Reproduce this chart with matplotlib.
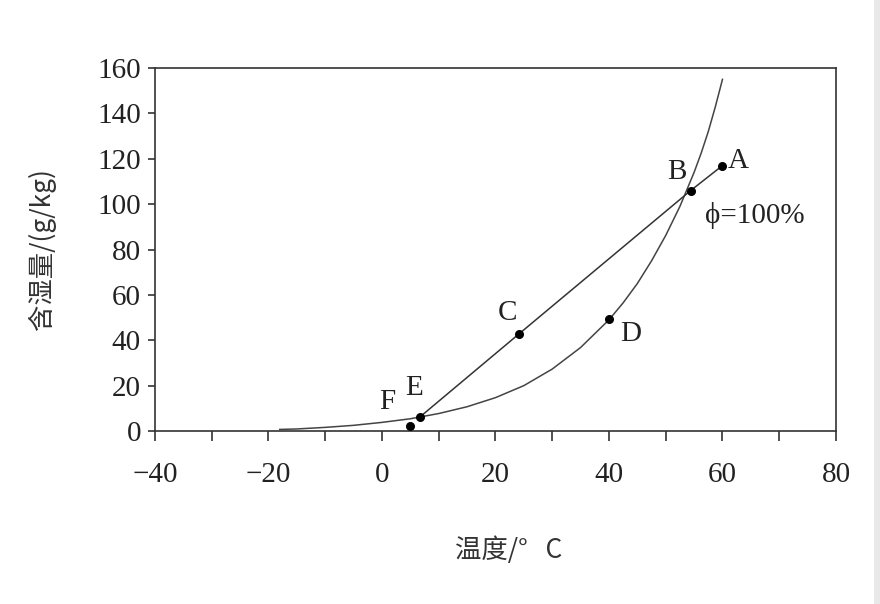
import matplotlib.pyplot as plt
from matplotlib.patches import Rectangle
from matplotlib.ticker import MultipleLocator

plt.rcParams['font.family'] = ['Liberation Serif', 'Noto Sans CJK SC', 'DejaVu Sans']

# 饱和线 φ=100%
sat_t = [-18, -15, -10, -5, 0, 5, 10, 15, 20, 25, 30, 35, 40, 42.5, 45, 47.5, 50,
         52.5, 55, 56.25, 57.5, 58.75, 60]
sat_d = [0.7, 0.9, 1.6, 2.5, 3.8, 5.4, 7.7, 10.7, 14.7, 20.0, 27.3, 36.8, 49.0, 56.5,
         65.0, 75.0, 86.2, 99.0, 114.0, 122.5, 132.0, 143.0, 155.0]

# 状态点
pt_names = ['A', 'B', 'C', 'D', 'E', 'F']
pt_t = [60, 54.4, 24.1, 40, 6.7, 4.9]
pt_d = [117, 106, 42.7, 49.3, 6.2, 2.2]

# 直线 A-B-C-E
line_names = ['A', 'B', 'C', 'E']

fig = plt.figure(figsize=(8.8, 6.04), dpi=100)
ax = fig.add_axes([0.176, 0.2864, 0.774, 0.601])

ax.plot(sat_t, sat_d, color='#444444', lw=1.1)
lx = [pt_t[pt_names.index(n)] for n in line_names]
ly = [pt_d[pt_names.index(n)] for n in line_names]
ax.plot(lx, ly, color='#333333', lw=1.1)
ax.scatter(pt_t, pt_d, s=30, color='black', zorder=3)

# 点的标注（偏移量，单位：点）
offsets = {'A': (11, 3), 'B': (-10, 13), 'C': (-8, 15), 'D': (16, -11),
           'E': (-4, 21), 'F': (-16, 17)}
for n, x, y in zip(pt_names, pt_t, pt_d):
    dx, dy = offsets[n]
    ax.annotate(n, (x, y), xytext=(dx, dy), textcoords='offset points',
                ha='center', va='center', fontsize=21, color='#222222')
ax.text(65.7, 95, 'ϕ=100%', ha='center', va='center', fontsize=21, color='#222222')

ax.set_xlim(-40, 80)
ax.set_ylim(0, 160)
ax.xaxis.set_major_locator(MultipleLocator(20))
ax.xaxis.set_minor_locator(MultipleLocator(10))
ax.yaxis.set_major_locator(MultipleLocator(20))
ax.tick_params(axis='x', which='both', direction='out', length=7, width=1.2,
               color='#333333', pad=15, labelsize=21, labelcolor='#222222')
ax.tick_params(axis='y', direction='out', length=5, width=1.2, color='#333333',
               pad=5, labelsize=21, labelcolor='#222222')
for s in ax.spines.values():
    s.set_color('#333333')
    s.set_linewidth(1.2)

ax.set_xlabel('温度/°   C', fontsize=19, color='#333333', labelpad=36,
              family=['Noto Sans CJK SC', 'DejaVu Sans'])
ax.xaxis.set_label_coords(0.52, -0.29)
ax.set_ylabel('含湿量/(g/kg)', fontsize=19, color='#333333', labelpad=30,
              family=['Noto Sans CJK SC', 'DejaVu Sans'])

# 右侧灰色边条
fig.add_artist(Rectangle((874 / 880, 0), 6 / 880, 1, transform=fig.transFigure,
                         color='#e8e8e8', lw=0))

fig.savefig('out.png', dpi=100)
